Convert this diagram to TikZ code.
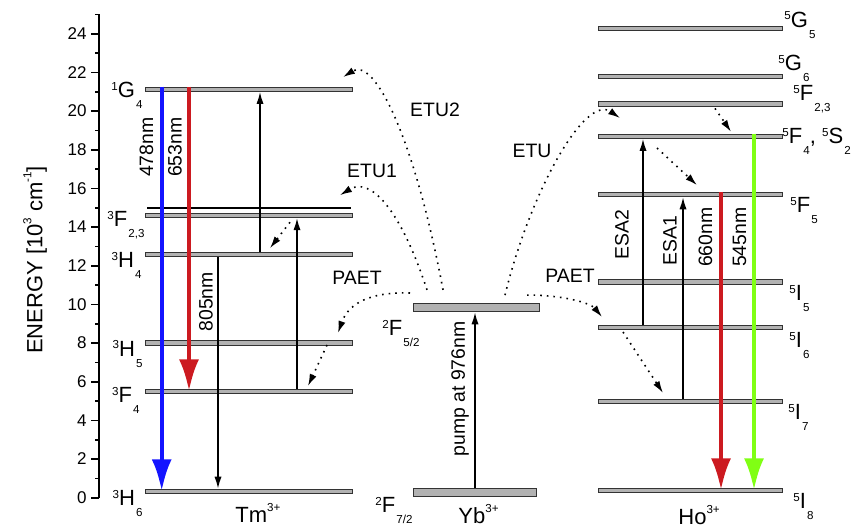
\documentclass[tikz,border=0pt]{standalone}
\usepackage{fontspec}
\setmainfont{Liberation Sans}
\usetikzlibrary{arrows.meta}

\definecolor{emred}{RGB}{204,26,32}
\definecolor{emgreen}{RGB}{128,255,20}
\definecolor{emblue}{RGB}{20,20,255}
\newcommand{\lev}[3]{\raisebox{0.32em}{\fontsize{5.8}{6}\selectfont #1}#2\raisebox{-0.5em}{\fontsize{5.8}{6}\selectfont\hspace{0.1em}#3}}
\newcommand{\ionsup}[1]{\raisebox{0.5em}{\fontsize{5.8}{6}\selectfont #1}}

\begin{document}
\begin{tikzpicture}[x=0.5pt,y=9.665pt,>={Latex[width=3.6pt,length=6pt]},
  font=\fontsize{9.7}{11.5}\selectfont,
  lvl/.style={draw=black!80,fill=black!30,line width=0.5pt,minimum height=2.2pt,inner sep=0pt},
  tmlvl/.style={lvl,minimum width=103.5pt},
  holvl/.style={lvl,minimum width=92pt},
  yblvl/.style={lvl,minimum height=4pt},
  emit/.style={line width=2.2pt,-{Latex[width=10pt,length=16pt]}},
  thinarrow/.style={line width=0.7pt,->},
  transfer/.style={dash pattern=on 0.8pt off 2.5pt,line width=0.8pt,->},
  lab/.style={inner sep=0pt},
  term/.style={lab,font=\fontsize{11}{13}\selectfont}]
  \useasboundingbox (0,-1.671) rectangle (860,25.748);
  % axis
  \draw[line width=0.8pt] (99,0) -- (99,25);
  \foreach \e in {0,2,...,24} {
    \draw[line width=0.8pt] (91,\e) -- (99,\e);
    \node[lab,anchor=east,font=\fontsize{8.5}{9}\selectfont] (tick\e) at (87,\e) {\e};
  }
  \foreach \e in {1,3,...,25} \draw[line width=0.8pt] (95,\e) -- (99,\e);
  \node[term,rotate=90] (ylab) at (35,12.3) {ENERGY [10\ionsup{3} cm\ionsup{-1}]};

  % Tm levels
  \node[tmlvl] (G4) at (248.5,21.13) {};
  \node[lab,fill=black,minimum height=0.9pt,minimum width=102pt] (F23a) at (248.5,14.98) {};
  \node[tmlvl] (F23) at (248.5,14.6) {};
  \node[tmlvl] (H4) at (248.5,12.57) {};
  \node[tmlvl] (H5) at (248.5,8.0) {};
  \node[tmlvl] (F4) at (248.5,5.5) {};
  \node[tmlvl] (H6) at (248.5,0.33) {};
  \node[term,anchor=base east] (lG4) at (143,20.72) {\lev{1}{G}{4}};
  \node[term,anchor=base east] (lF23) at (145,14.05) {\lev{3}{F}{2,3}};
  \node[term,anchor=base east] (lH4) at (142,11.92) {\lev{3}{H}{4}};
  \node[term,anchor=base east] (lH5) at (143,7.33) {\lev{3}{H}{5}};
  \node[term,anchor=base east] (lF4) at (140,4.90) {\lev{3}{F}{4}};
  \node[term,anchor=base east] (lH6) at (143,-0.38) {\lev{3}{H}{6}};
  \node[term,anchor=base west] (tm) at (235,-1.26) {Tm\ionsup{3+}};

  % Yb levels
  \node[yblvl,minimum width=63pt] (Ybup) at (476,9.82) {};
  \node[yblvl,minimum width=61.5pt] (Ybgr) at (474.5,0.26) {};
  \node[term,anchor=base east] (lF52) at (420,8.41) {\lev{2}{F}{5/2}};
  \node[term,anchor=base east] (lF72) at (413,-0.79) {\lev{2}{F}{7/2}};
  \node[term,anchor=base west] (yb) at (458,-1.31) {Yb\ionsup{3+}};

  % Ho levels
  \node[holvl] (hG5) at (690,24.26) {};
  \node[holvl] (hG6) at (690,21.8) {};
  \node[holvl] (hF23) at (690,20.37) {};
  \node[holvl] (hF4) at (690,18.7) {};
  \node[holvl] (hF5) at (690,15.68) {};
  \node[holvl] (hI5) at (690,11.16) {};
  \node[holvl] (hI6) at (690,8.8) {};
  \node[holvl] (hI7) at (690,4.97) {};
  \node[holvl] (hI8) at (690,0.38) {};
  \node[term,anchor=base west] (lhG5) at (784,24.35) {\lev{5}{G}{5}};
  \node[term,anchor=base west] (lhG6) at (778,22.12) {\lev{5}{G}{6}};
  \node[term,anchor=base west] (lhF23) at (793,20.57) {\lev{5}{F}{2,3}};
  \node[term,anchor=base west] (lhF4) at (782,18.34) {\lev{5}{F}{4}, \lev{5}{S}{2}};
  \node[term,anchor=base west] (lhF5) at (790,14.77) {\lev{5}{F}{5}};
  \node[term,anchor=base west] (lhI5) at (789,10.22) {\lev{5}{I}{5}};
  \node[term,anchor=base west] (lhI6) at (789,7.79) {\lev{5}{I}{6}};
  \node[term,anchor=base west] (lhI7) at (788,4.02) {\lev{5}{I}{7}};
  \node[term,anchor=base west] (lhI8) at (793,-0.54) {\lev{5}{I}{8}};
  \node[term,anchor=base west] (ho) at (678,-1.41) {Ho\ionsup{3+}};

  % radiative and absorption transitions
  \draw[emit,emblue] (161.7,0 |- G4.north) -- (161.7,0 |- H6);
  \draw[emit,emred] (189,0 |- G4.north) -- (189,0 |- F4);
  \draw[thinarrow] (260,0 |- H4.north) -- (260,0 |- G4.south);
  \draw[thinarrow] (297,0 |- F4.north) -- (297,0 |- F23.south);
  \draw[thinarrow] (218,0 |- H4.south) -- (218,0 |- H6.north);
  \draw[thinarrow] (475,0 |- Ybgr.north) -- (475,0 |- Ybup.south);
  \draw[thinarrow] (643,0 |- hI6.north) -- (643,0 |- hF4.south);
  \draw[thinarrow] (683,0 |- hI7.north) -- (683,0 |- hF5.south);
  \draw[emit,emred] (721,0 |- hF5.north) -- (721,0 |- hI8);
  \draw[emit,emgreen] (754,0 |- hF4.north) -- (754,0 |- hI8);
  \node[lab,rotate=90] (n478) at (146.5,18.13) {478nm};
  \node[lab,rotate=90] (n653) at (175,18.13) {653nm};
  \node[lab,rotate=90] (n805) at (206,10.13) {805nm};
  \node[lab,rotate=90] (npump) at (460,5.63) {pump at 976nm};
  \node[lab,rotate=90] (nesa2) at (622,13.63) {ESA2};
  \node[lab,rotate=90] (nesa1) at (670,13.28) {ESA1};
  \node[lab,rotate=90] (n660) at (705.5,13.47) {660nm};
  \node[lab,rotate=90] (n545) at (739.5,13.47) {545nm};

  % energy transfer and relaxation
  \coordinate (sE2) at (443,10.75); \coordinate (eE2) at (343,21.76);
  \coordinate (sE1) at (427,10.75); \coordinate (eE1) at (340,15.65);
  \coordinate (sPl) at (410,10.59); \coordinate (ePl) at (338,8.52);
  \coordinate (sEr) at (505,10.48); \coordinate (eEr) at (620,19.64);
  \coordinate (sPr) at (527,10.48); \coordinate (ePr) at (602,9.35);
  \draw[transfer] (sE2) .. controls (415,18.5) and (375,22.8) .. (eE2);
  \draw[transfer] (sE1) .. controls (400,15.0) and (370,16.6) .. (eE1);
  \draw[transfer] (sPl) .. controls (380,10.65) and (350,10.3) .. (ePl);
  \draw[transfer] (sEr) .. controls (530,15.8) and (585,20.9) .. (eEr);
  \draw[transfer] (sPr) .. controls (560,10.5) and (590,10.1) .. (ePr);
  \coordinate (r1) at (290,14.25); \coordinate (r1e) at (270,12.91);
  \coordinate (r2) at (327,7.90); \coordinate (r2e) at (308,5.78);
  \coordinate (r3) at (715,20.14); \coordinate (r3e) at (731,18.93);
  \coordinate (r4) at (657,18.09); \coordinate (r4e) at (697,16.17);
  \coordinate (r5) at (623,8.57); \coordinate (r5e) at (663,5.42);
  \foreach \a in {r1,r2,r3,r4,r5} \draw[transfer] (\a) -- (\a e);
  \node[lab] (tETU2) at (435,20.05) {ETU2};
  \node[lab] (tETU1) at (372,16.89) {ETU1};
  \node[lab] (tPAETl) at (357,11.37) {PAET};
  \node[lab] (tETU) at (532,17.93) {ETU};
  \node[lab] (tPAETr) at (570,11.47) {PAET};
\end{tikzpicture}
\end{document}
